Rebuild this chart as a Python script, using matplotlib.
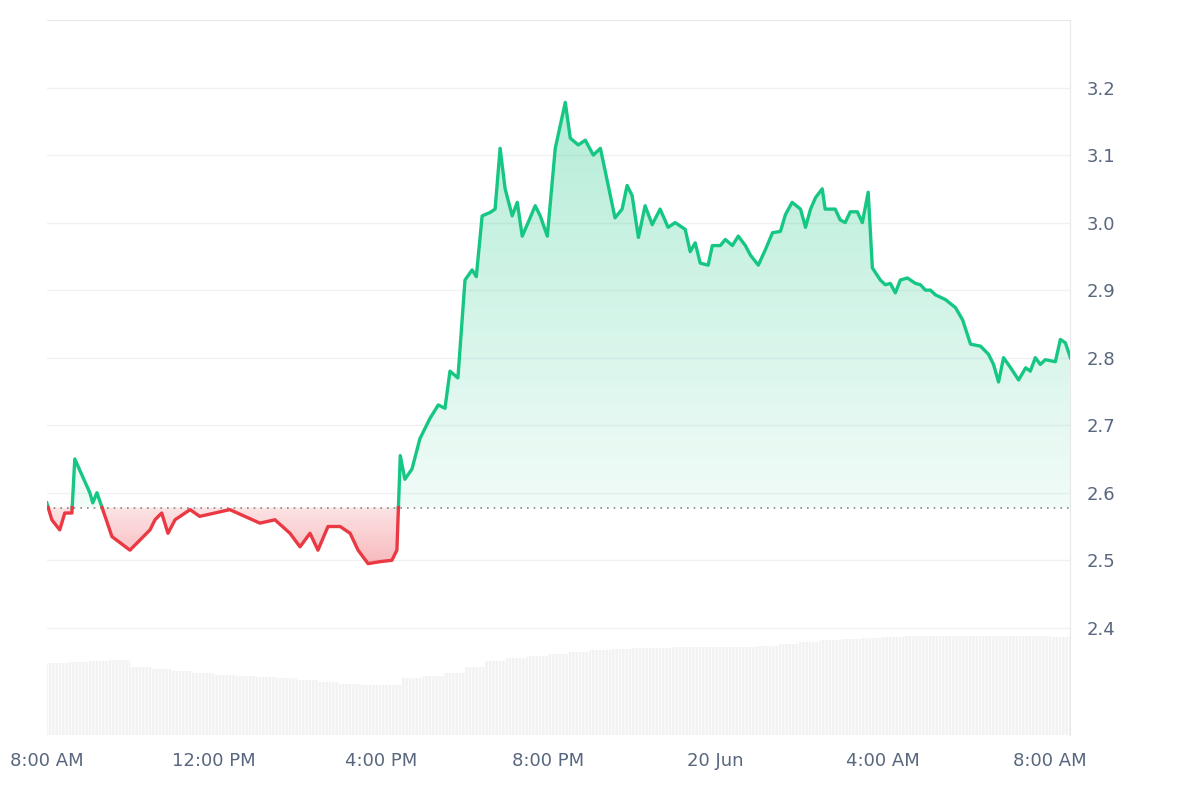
import numpy as np
import matplotlib
matplotlib.use("Agg")
import matplotlib.pyplot as plt
from matplotlib.patches import Polygon
from matplotlib.colors import LinearSegmentedColormap

hours = [0,0.12,0.31,0.43,0.6,0.67,1.03,1.10,1.2,1.34,1.56,1.99,2.23,2.47,2.59,2.75,2.9,3.07,3.43,3.66,4.02,4.38,4.74,5.10,5.46,5.82,6.06,6.30,6.49,6.73,7.02,7.26,7.45,7.69,7.98,8.26,8.38,8.46,8.57,8.74,8.93,9.17,9.37,9.53,9.65,9.84,10.01,10.18,10.28,10.42,10.61,10.73,10.85,10.97,11.14,11.26,11.38,11.52,11.69,11.81,11.98,12.17,12.41,12.53,12.72,12.89,13.08,13.25,13.37,13.60,13.77,13.89,14.01,14.16,14.32,14.49,14.68,14.87,15.04,15.28,15.40,15.52,15.64,15.83,15.93,16.12,16.24,16.41,16.55,16.72,16.84,17.03,17.20,17.37,17.56,17.68,17.84,18.04,18.16,18.28,18.40,18.56,18.63,18.87,18.99,19.11,19.23,19.40,19.52,19.66,19.76,19.95,20.07,20.19,20.31,20.43,20.60,20.79,20.91,21.03,21.15,21.27,21.51,21.75,21.92,22.11,22.35,22.54,22.66,22.78,22.90,23.07,23.26,23.43,23.54,23.66,23.78,23.90,24.14,24.26,24.38,24.50]
prices = [2.585,2.56,2.545,2.57,2.57,2.65,2.60,2.585,2.60,2.575,2.535,2.515,2.53,2.545,2.56,2.57,2.54,2.56,2.575,2.565,2.57,2.575,2.565,2.555,2.56,2.54,2.52,2.54,2.515,2.55,2.55,2.54,2.515,2.495,2.498,2.50,2.515,2.655,2.62,2.635,2.68,2.71,2.73,2.725,2.78,2.77,2.915,2.93,2.92,3.01,3.015,3.02,3.11,3.05,3.01,3.03,2.98,3.00,3.025,3.01,2.98,3.11,3.178,3.125,3.115,3.122,3.10,3.11,3.075,3.007,3.02,3.055,3.04,2.978,3.025,2.997,3.02,2.993,3.00,2.99,2.957,2.97,2.94,2.937,2.966,2.966,2.975,2.966,2.98,2.966,2.952,2.937,2.96,2.985,2.987,3.012,3.03,3.02,2.993,3.02,3.037,3.05,3.02,3.02,3.004,3.00,3.016,3.016,3.00,3.045,2.933,2.915,2.908,2.91,2.896,2.915,2.918,2.91,2.908,2.90,2.90,2.893,2.886,2.874,2.856,2.82,2.817,2.805,2.79,2.764,2.80,2.785,2.767,2.785,2.78,2.80,2.79,2.797,2.794,2.827,2.822,2.80]
baseline = 2.578
vol_hours = [i * 0.5 for i in range(49)]
volumes = [72,73,74,75,68,66,64,62,60,59,58,57,55,53,51,50,50,57,59,62,68,74,77,79,81,83,85,86,87,87,88,88,88,88,89,91,93,95,96,97,98,99,99,99,99,99,99,99,98]
xticks = [0,4,8,12,16,20,24]
xlabels = ["8:00 AM","12:00 PM","4:00 PM","8:00 PM","20 Jun","4:00 AM","8:00 AM"]
yticks = [2.4,2.5,2.6,2.7,2.8,2.9,3.0,3.1,3.2]

GREEN = "#16c784"; RED = "#ea3943"
plt.rcParams["hatch.color"] = "white"
plt.rcParams["hatch.linewidth"] = 0.6

fig = plt.figure(figsize=(12, 8), dpi=100)
ax = fig.add_axes([0.039, 0.081, 0.853, 0.894])
x = np.array(hours); y = np.array(prices)
ax.set_xlim(0, 24.5)
ax.set_ylim(2.241, 3.30)

axv = ax.twinx()
axv.set_ylim(0, 715)
axv.bar(vol_hours, volumes, width=0.5, color="#f2f2f2", edgecolor="white", linewidth=0, hatch="|||||", align="edge", zorder=0)
axv.set_yticks([]); axv.axis("off")
ax.set_zorder(axv.get_zorder() + 1); ax.patch.set_visible(False)

xs, ys = [x[0]], [y[0]]
for i in range(1, len(x)):
    if (y[i-1] - baseline) * (y[i] - baseline) < 0:
        t = (baseline - y[i-1]) / (y[i] - y[i-1])
        xs.append(x[i-1] + t * (x[i] - x[i-1])); ys.append(baseline)
    xs.append(x[i]); ys.append(y[i])
xs = np.array(xs); ys = np.array(ys)

grad = np.linspace(0, 1, 256).reshape(-1, 1)
gcm = LinearSegmentedColormap.from_list("g", [(0.086,0.78,0.52,0.06),(0.086,0.78,0.52,0.32)])
rcm = LinearSegmentedColormap.from_list("r", [(0.92,0.22,0.26,0.35),(0.92,0.22,0.26,0.14)])
ytop = ys.max()
im = ax.imshow(grad, extent=[0, 24.5, baseline, ytop], origin="lower", cmap=gcm, aspect="auto", zorder=1)
up = np.maximum(ys, baseline)
poly = Polygon(np.column_stack([np.r_[xs, xs[::-1]], np.r_[up, np.full(len(xs), baseline)]]), transform=ax.transData, facecolor="none", edgecolor="none")
ax.add_patch(poly); im.set_clip_path(poly)
ybot = ys.min()
im2 = ax.imshow(grad, extent=[0, 24.5, ybot, baseline], origin="lower", cmap=rcm, aspect="auto", zorder=1)
dn = np.minimum(ys, baseline)
poly2 = Polygon(np.column_stack([np.r_[xs, xs[::-1]], np.r_[dn, np.full(len(xs), baseline)]]), transform=ax.transData, facecolor="none", edgecolor="none")
ax.add_patch(poly2); im2.set_clip_path(poly2)

ax.plot(xs, np.ma.masked_where(ys < baseline - 1e-9, ys), color=GREEN, lw=2.4, zorder=3, solid_joinstyle="round")
ax.plot(xs, np.ma.masked_where(ys > baseline + 1e-9, ys), color=RED, lw=2.4, zorder=3, solid_joinstyle="round")
ax.axhline(baseline, color="#888888", lw=1.2, ls=(0, (1, 3)), zorder=2)

for t in yticks:
    ax.axhline(t, color="#f0f1f3", lw=1, zorder=0.5)
ax.yaxis.tick_right()
ax.set_yticks(yticks)
ax.set_yticklabels([f"{t:.1f}" for t in yticks])
ax.set_xticks(xticks); ax.set_xticklabels(xlabels)
ax.tick_params(length=0, labelsize=13, colors="#58667e", pad=12)
for s in ["left", "bottom"]:
    ax.spines[s].set_visible(False)
for s in ["top", "right"]:
    ax.spines[s].set_color("#e6e8ea")
fig.savefig("out.png", dpi=100, facecolor="white")
